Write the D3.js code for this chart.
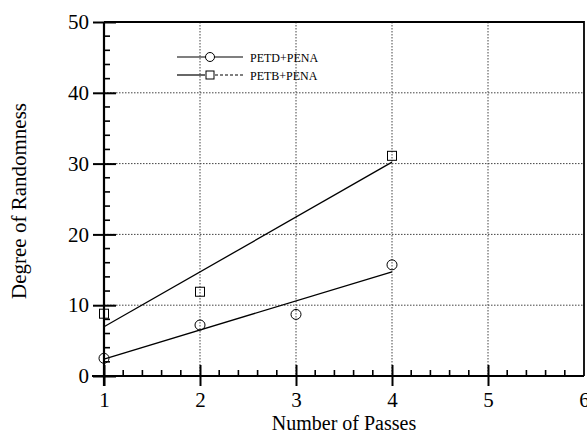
<!DOCTYPE html>
<html>
<head>
<meta charset="utf-8">
<script src="https://cdn.jsdelivr.net/npm/d3@7"></script>
<style>
  html, body { margin: 0; padding: 0; background: #fff; }
  svg text { font-family: "Liberation Serif", "Times New Roman", serif; fill: #000; }
</style>
</head>
<body>
<svg id="chart" width="587" height="435"></svg>
<script>
// Measured series: number of passes vs. degree of randomness
const passesD = [1, 2, 3, 4];
const randD = [2.5, 7.2, 8.7, 15.7];
const passesB = [1, 2, 4];
const randB = [8.8, 11.9, 31.1];

// Straight-line fits drawn through each series (end points at 1 and 4 passes)
const fitX = [1, 4];
const fitD = [2.4, 14.7];
const fitB = [6.95, 30.2];

const seriesNames = ["PETD+PENA", "PETB+PENA"];
const xTicks = [1, 2, 3, 4, 5, 6];
const yTicks = [0, 10, 20, 30, 40, 50];

const svg = d3.select("#chart");
const pLeft = 104, pRight = 584, pTop = 22, pBottom = 376;

const x = d3.scaleLinear().domain([1, 6]).range([pLeft, pRight]);
const y = d3.scaleLinear().domain([0, 50]).range([pBottom, pTop]);

// dotted grid at the major ticks
const grid = svg.append("g").attr("stroke", "#444").attr("stroke-width", 1)
  .attr("stroke-dasharray", "1.5,1.5");
grid.selectAll("line.gx").data(xTicks.filter(d => d > 1 && d < 6)).join("line")
  .attr("class", "gx")
  .attr("x1", d => x(d)).attr("x2", d => x(d)).attr("y1", pTop).attr("y2", pBottom);
grid.selectAll("line.gy").data(yTicks.filter(d => d > 0 && d < 50)).join("line")
  .attr("class", "gy")
  .attr("x1", pLeft).attr("x2", pRight).attr("y1", d => y(d)).attr("y2", d => y(d));

// frame: top and right
svg.append("path")
  .attr("d", `M${pLeft},${pTop}H${pRight}V${pBottom}`)
  .attr("fill", "none").attr("stroke", "#000").attr("stroke-width", 1.8);

// x axis
const xAxis = svg.append("g").attr("transform", `translate(0,${pBottom})`);
xAxis.call(d3.axisBottom(x).tickValues(xTicks).tickFormat(d3.format("d"))
  .tickSizeInner(0).tickSizeOuter(0));
xAxis.select(".domain").attr("stroke-width", 2.2).attr("d", `M${pLeft - 12},0H${pRight}`);
xAxis.selectAll("text").style("font-size", "21px").attr("y", 31).attr("dy", 0);
xAxis.selectAll(".tick").filter(d => d < 6).append("line")
  .attr("y1", -11).attr("y2", 10).attr("stroke", "#000").attr("stroke-width", 2);
const xMinor = d3.range(1, 6.001, 0.2).filter(v => Math.abs(v - Math.round(v)) > 0.01);
xAxis.selectAll("line.minor").data(xMinor).join("line")
  .attr("class", "minor")
  .attr("x1", d => x(d)).attr("x2", d => x(d)).attr("y1", 0).attr("y2", -6)
  .attr("stroke", "#000").attr("stroke-width", 1.6);

// y axis
const yAxis = svg.append("g").attr("transform", `translate(${pLeft},0)`);
yAxis.call(d3.axisLeft(y).tickValues(yTicks).tickFormat(d3.format("d"))
  .tickSizeInner(0).tickSizeOuter(0).tickPadding(15));
yAxis.select(".domain").attr("stroke-width", 2.2).attr("d", `M0,${pBottom + 10}V${pTop}`);
yAxis.selectAll("text").style("font-size", "21px");
yAxis.selectAll(".tick").append("line")
  .attr("x1", -11).attr("x2", 12).attr("stroke", "#000").attr("stroke-width", 2);
const yMinor = d3.range(0, 50.001, 2).filter(v => v % 10 !== 0);
yAxis.selectAll("line.minor").data(yMinor).join("line")
  .attr("class", "minor")
  .attr("x1", 0).attr("x2", 6).attr("y1", d => y(d)).attr("y2", d => y(d))
  .attr("stroke", "#000").attr("stroke-width", 1.6);

// axis titles
svg.append("text").attr("x", 344).attr("y", 430)
  .attr("text-anchor", "middle").style("font-size", "20px").text("Number of Passes");
svg.append("text").attr("transform", "translate(26,201) rotate(-90)")
  .attr("text-anchor", "middle").style("font-size", "21px").text("Degree of Randomness");

// fit lines
const line = d3.line().x(d => x(d[0])).y(d => y(d[1]));
svg.append("path").datum(d3.zip(fitX, fitD)).attr("d", line)
  .attr("fill", "none").attr("stroke", "#000").attr("stroke-width", 1.3);
svg.append("path").datum(d3.zip(fitX, fitB)).attr("d", line)
  .attr("fill", "none").attr("stroke", "#000").attr("stroke-width", 1.3);

// markers
svg.append("g").selectAll("circle").data(d3.zip(passesD, randD)).join("circle")
  .attr("cx", d => x(d[0])).attr("cy", d => y(d[1])).attr("r", 5)
  .attr("fill", "none").attr("stroke", "#000").attr("stroke-width", 1);
svg.append("g").selectAll("rect").data(d3.zip(passesB, randB)).join("rect")
  .attr("x", d => x(d[0]) - 4.5).attr("y", d => y(d[1]) - 4.5)
  .attr("width", 9).attr("height", 9)
  .attr("fill", "none").attr("stroke", "#000").attr("stroke-width", 1);

// legend
const lg = svg.append("g");
const ly = [57, 75];
lg.append("line").attr("x1", 177).attr("x2", 243).attr("y1", ly[0]).attr("y2", ly[0])
  .attr("stroke", "#000").attr("stroke-width", 1.2);
lg.append("circle").attr("cx", 210).attr("cy", ly[0]).attr("r", 4.5)
  .attr("fill", "#fff").attr("stroke", "#000").attr("stroke-width", 1);
lg.append("line").attr("x1", 177).attr("x2", 205).attr("y1", ly[1]).attr("y2", ly[1])
  .attr("stroke", "#000").attr("stroke-width", 1.2);
lg.append("line").attr("x1", 215).attr("x2", 243).attr("y1", ly[1]).attr("y2", ly[1])
  .attr("stroke", "#000").attr("stroke-width", 1.2).attr("stroke-dasharray", "3,2");
lg.append("rect").attr("x", 206).attr("y", ly[1] - 4).attr("width", 8).attr("height", 8)
  .attr("fill", "#fff").attr("stroke", "#000").attr("stroke-width", 1);
lg.selectAll("text").data(seriesNames).join("text")
  .attr("x", 250).attr("y", (d, i) => ly[i] + 4.5)
  .style("font-size", "12px").text(d => d);
</script>
</body>
</html>
